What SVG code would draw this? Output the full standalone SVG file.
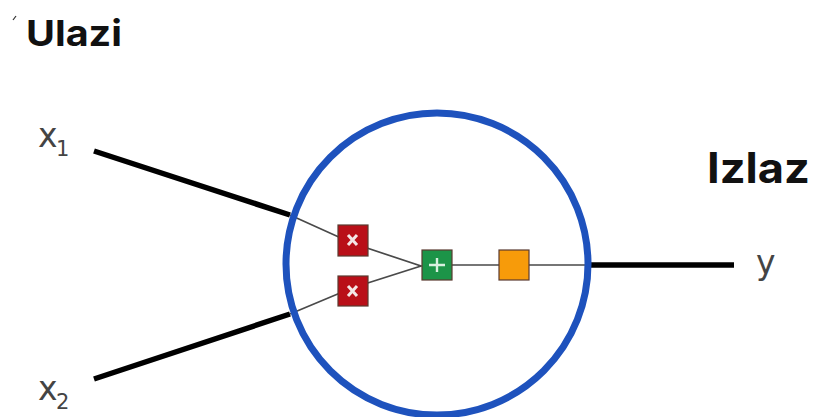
<svg xmlns="http://www.w3.org/2000/svg" width="815" height="417" viewBox="0 0 815 417">
<style>
.thick{stroke:#000;stroke-width:5.5;fill:none}
.thin{stroke:#4a4a4a;stroke-width:1.7;fill:none}
.title{font-family:"Inter","Liberation Sans",sans-serif;font-weight:700;fill:#111}
.var{font-family:"DejaVu Sans",sans-serif;font-size:33px;fill:#444}
.sub{font-family:"DejaVu Sans",sans-serif;font-size:21px;fill:#444}
.op{stroke:#f4e6e6;stroke-width:3;fill:none}
.plus{stroke:#d8f0e0;stroke-width:2.4;fill:none}
.box{stroke:#5a3a30;stroke-width:1.2}
</style>
<rect width="815" height="417" fill="#fff"/>
<g id="connectors">
<path class="thick" d="M94 151L290 215M94 379L290 314M588 265H734"/>
<path class="thin" d="M290 215L352 243L421 266L352 288L290 314M452 265H588"/>
</g>
<g id="neuron"><circle cx="437" cy="264" r="151" fill="none" stroke="#1e52bd" stroke-width="7"/></g>
<g id="mul1"><rect class="box" x="338" y="225" width="30" height="31" fill="#b90f18"/><path class="op" d="M348 235l9 10m0-10l-9 10"/></g>
<g id="mul2"><rect class="box" x="338" y="276" width="30" height="30" fill="#b90f18"/><path class="op" d="M348 286l9 10m0-10l-9 10"/></g>
<g id="add"><rect class="box" x="422" y="250" width="30" height="30" fill="#1c9448"/><path class="plus" d="M437 258v14m-8-7h16"/></g>
<g id="activation"><rect class="box" x="499" y="250" width="30" height="30" fill="#f79b0a"/></g>
<g id="labels">
<text class="title" x="26" y="46" font-size="36" textLength="96" lengthAdjust="spacingAndGlyphs">Ulazi</text>
<text class="title" x="707" y="183" font-size="42" textLength="103" lengthAdjust="spacingAndGlyphs">Izlaz</text>
<text class="var" x="38" y="147">x</text><text class="sub" x="56" y="156">1</text>
<text class="var" x="38" y="400">x</text><text class="sub" x="56" y="409">2</text>
<text class="var" x="756" y="274">y</text>
<path d="M13 20l3-4" stroke="#333" stroke-width="1.2" fill="none"/>
</g>
</svg>
